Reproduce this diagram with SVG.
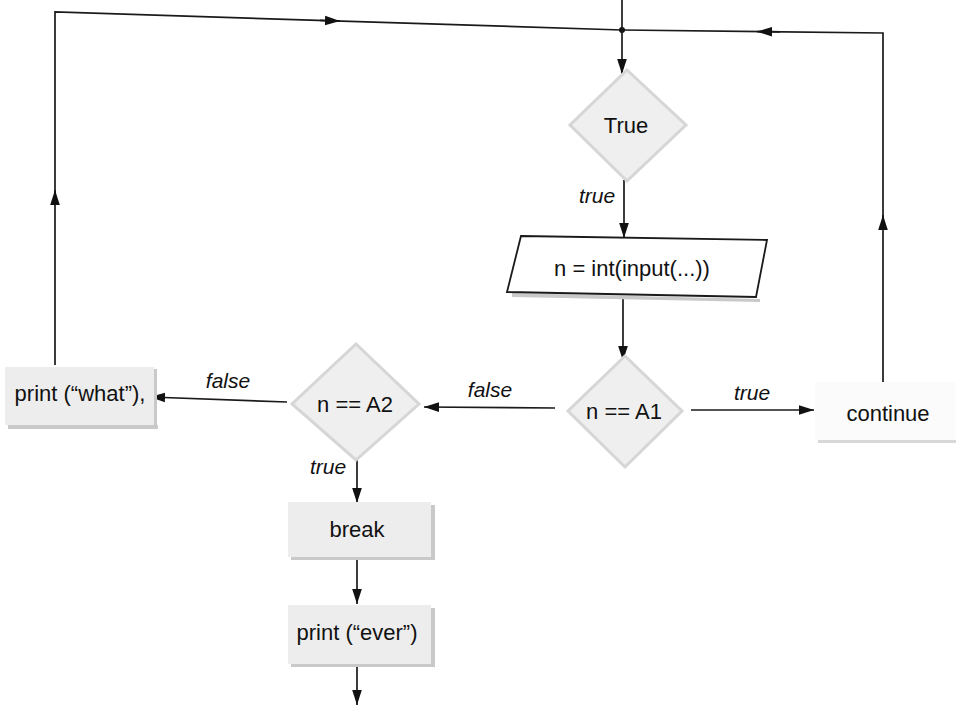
<svg xmlns="http://www.w3.org/2000/svg" width="960" height="705" viewBox="0 0 960 705">
<defs>
<marker id="ah" viewBox="0 0 14 10" refX="14" refY="5" markerWidth="15" markerHeight="11" markerUnits="userSpaceOnUse" orient="auto">
<path d="M0,0.5 L14,5 L0,9.5 Z" fill="#111"/>
</marker>
</defs>
<style>
.ln{fill:none;stroke:#1a1a1a;stroke-width:1.7}
.dia{fill:#efefef;stroke:#d6d6d6;stroke-width:3}
.box{fill:#ededed}
.sh{fill:#c9c9c9}
.t{font-family:"Liberation Sans",Arial,sans-serif;font-size:22px;fill:#111;text-anchor:middle}
.lb{font-family:"Liberation Sans",Arial,sans-serif;font-size:21px;font-style:italic;fill:#111;text-anchor:middle}
</style>
<rect width="960" height="705" fill="#fff"/>
<g id="connectors">
<path class="ln" d="M55,365 L55,12 L622,30 L883,33 L883,382"/>
<path class="ln" d="M55,205 L55,190" marker-end="url(#ah)"/>
<path class="ln" d="M320,20.4 L340,21.05" marker-end="url(#ah)"/>
<path class="ln" d="M883,230 L883,215" marker-end="url(#ah)"/>
<path class="ln" d="M780,31.8 L757,31.55" marker-end="url(#ah)"/>
<circle cx="622" cy="30" r="3" fill="#111"/>
<path class="ln" d="M622,0 L622,74" marker-end="url(#ah)"/>
<path class="ln" d="M624,180 L624,238" marker-end="url(#ah)"/>
<path class="ln" d="M623,297 L623,361" marker-end="url(#ah)"/>
<path class="ln" d="M691,410 L814,410" marker-end="url(#ah)"/>
<path class="ln" d="M555,408 L424,407" marker-end="url(#ah)"/>
<path class="ln" d="M287,402 L150,397" marker-end="url(#ah)"/>
<path class="ln" d="M357,458 L357,503" marker-end="url(#ah)"/>
<path class="ln" d="M357,559 L357,604" marker-end="url(#ah)"/>
<path class="ln" d="M357,666 L357,705" marker-end="url(#ah)"/>
<text class="lb" x="597" y="203">true</text>
<text class="lb" x="752" y="400">true</text>
<text class="lb" x="490" y="397">false</text>
<text class="lb" x="228" y="388">false</text>
<text class="lb" x="328" y="474">true</text>
</g>
<g id="node-true">
<path class="dia" d="M627,70 L686,125 L627,181 L570,125 Z"/>
<text class="t" x="626" y="133">True</text>
</g>
<g id="node-input">
<path class="sh" d="M512,293 L760,299 L760,302 L512,297 Z"/>
<path fill="#fff" stroke="#1a1a1a" stroke-width="1.8" d="M521,236 L767,240 L756,297 L507,292 Z"/>
<text class="t" x="632" y="276">n = int(input(...))</text>
</g>
<g id="node-a1">
<path class="dia" d="M625,356 L682,411 L625,467 L568,411 Z"/>
<text class="t" x="624" y="419">n == A1</text>
</g>
<g id="node-continue">
<rect x="818" y="440" width="138" height="3" fill="#d8d8d8"/>
<rect x="815" y="382" width="140" height="58" fill="#fbfbfb"/>
<text class="t" x="888" y="421">continue</text>
</g>
<g id="node-a2">
<path class="dia" d="M356,344 L419,404 L356,460 L292,404 Z"/>
<text class="t" x="355" y="412">n == A2</text>
</g>
<g id="node-what">
<rect class="sh" x="8" y="425" width="150" height="4"/>
<rect class="sh" x="153" y="369" width="4" height="60"/>
<rect class="box" x="5" y="367" width="149" height="58"/>
<text class="t" x="80" y="401">print (“what”),</text>
</g>
<g id="node-break">
<rect class="sh" x="291" y="556" width="144" height="4"/>
<rect class="sh" x="430" y="505" width="5" height="55"/>
<rect class="box" x="288" y="502" width="143" height="55"/>
<text class="t" x="357" y="537">break</text>
</g>
<g id="node-ever">
<rect class="sh" x="291" y="663" width="144" height="4"/>
<rect class="sh" x="430" y="608" width="5" height="59"/>
<rect class="box" x="288" y="605" width="143" height="59"/>
<text class="t" x="357" y="640">print (“ever”)</text>
</g>
</svg>
